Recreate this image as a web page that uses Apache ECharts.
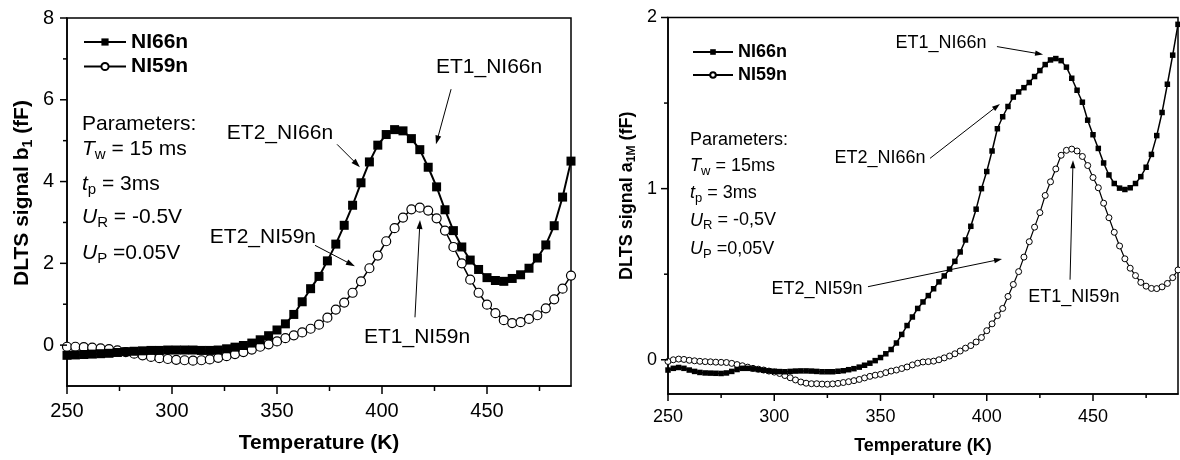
<!DOCTYPE html>
<html><head><meta charset="utf-8">
<script src="https://cdn.jsdelivr.net/npm/echarts@6/dist/echarts.min.js"></script>
<style>html,body{margin:0;padding:0;background:#fff}#c{width:1180px;height:460px}</style>
</head><body><div id="c"></div>
<script>
const FONT = '"Liberation Sans", Arial, Helvetica, sans-serif';

// ---------- data ----------
const seriesNames = ['NI66n', 'NI59n'];

const leftT = [250,254,258,262,266,270,274,278,282,286,290,294,298,302,306,310,314,318,322,326,
  330,334,338,342,346,350,354,358,362,366,370,374,378,382,386,390,394,398,402,406,
  410,414,418,422,426,430,434,438,442,446,450,454,458,462,466,470,474,478,482,486,490];
const left66 = [-0.25,-0.24,-0.23,-0.22,-0.21,-0.20,-0.18,-0.16,-0.15,-0.14,
  -0.13,-0.13,-0.12,-0.12,-0.12,-0.12,-0.13,-0.13,-0.12,-0.09,
  -0.05,-0.01,0.05,0.13,0.23,0.37,0.52,0.75,1.06,1.38,
  1.68,2.06,2.47,2.93,3.42,3.97,4.48,4.89,5.15,5.27,
  5.24,5.05,4.78,4.35,3.87,3.31,2.80,2.40,2.08,1.85,
  1.65,1.58,1.56,1.63,1.72,1.88,2.13,2.45,2.92,3.62,4.50];
const left59 = [-0.04,-0.04,-0.05,-0.06,-0.08,-0.10,-0.13,-0.17,-0.21,-0.25,
  -0.29,-0.32,-0.34,-0.36,-0.37,-0.38,-0.37,-0.35,-0.31,-0.27,
  -0.22,-0.17,-0.11,-0.04,0.02,0.09,0.17,0.24,0.31,0.40,
  0.50,0.67,0.87,1.04,1.28,1.56,1.88,2.19,2.54,2.86,
  3.12,3.32,3.36,3.29,3.10,2.80,2.40,2.00,1.60,1.28,
  0.99,0.78,0.61,0.54,0.56,0.64,0.73,0.90,1.12,1.38,1.70];

const rightT = [250,252.5,255,257.5,260,262.5,265,267.5,270,272.5,
  275,277.5,280,282.5,285,287.5,290,292.5,295,297.5,
  300,302.5,305,307.5,310,312.5,315,317.5,320,322.5,
  325,327.5,330,332.5,335,337.5,340,342.5,345,347.5,
  350,352.5,355,357.5,360,362.5,365,367.5,370,372.5,
  375,377.5,380,382.5,385,387.5,390,392.5,395,397.5,
  400,402.5,405,407.5,410,412.5,415,417.5,420,422.5,
  425,427.5,430,432.5,435,437.5,440,442.5,445,447.5,
  450,452.5,455,457.5,460,462.5,465,467.5,470,472.5,
  475,477.5,480,482.5,485,487.5,490];
const right66 = [-0.06,-0.05,-0.045,-0.05,-0.06,-0.068,-0.074,-0.077,-0.078,-0.079,
  -0.08,-0.077,-0.068,-0.057,-0.05,-0.05,-0.053,-0.057,-0.061,-0.065,
  -0.067,-0.069,-0.07,-0.068,-0.066,-0.065,-0.065,-0.066,-0.068,-0.07,
  -0.07,-0.07,-0.067,-0.064,-0.058,-0.052,-0.043,-0.032,-0.02,-0.005,
  0.013,0.035,0.06,0.098,0.148,0.2,0.25,0.3,0.338,0.375,
  0.415,0.455,0.49,0.53,0.575,0.63,0.70,0.78,0.88,1.0,
  1.10,1.22,1.35,1.42,1.48,1.535,1.565,1.59,1.62,1.655,
  1.69,1.725,1.752,1.76,1.748,1.71,1.645,1.575,1.505,1.40,
  1.315,1.235,1.15,1.08,1.03,1.003,0.995,1.005,1.03,1.07,
  1.125,1.2,1.31,1.445,1.61,1.78,1.96];
const right59 = [-0.01,0.0,0.004,0.002,-0.003,-0.006,-0.009,-0.011,-0.012,-0.014,
  -0.015,-0.016,-0.021,-0.028,-0.035,-0.043,-0.05,-0.055,-0.06,-0.066,
  -0.072,-0.08,-0.092,-0.105,-0.118,-0.13,-0.137,-0.14,-0.14,-0.142,
  -0.143,-0.141,-0.138,-0.133,-0.128,-0.122,-0.115,-0.106,-0.097,-0.09,
  -0.085,-0.075,-0.066,-0.06,-0.051,-0.042,-0.03,-0.02,-0.013,-0.011,
  -0.008,0.0,0.011,0.022,0.035,0.051,0.068,0.083,0.104,0.13,
  0.17,0.21,0.258,0.30,0.37,0.44,0.515,0.60,0.69,0.775,
  0.86,0.96,1.04,1.115,1.195,1.224,1.231,1.22,1.188,1.135,
  1.065,1.005,0.915,0.83,0.745,0.665,0.59,0.535,0.492,0.452,
  0.43,0.417,0.416,0.426,0.446,0.48,0.525];

const xLabels = [250, 300, 350, 400, 450];
const xMinor = [275, 325, 375, 425, 475];
const leftYLabels = [0, 2, 4, 6, 8];
const leftYMinor = [1, 3, 5, 7];
const rightYLabels = [0, 1, 2];
const rightYMinor = [0.5, 1.5];

// annotation: text, label (T, v), arrow from (T, v), arrow to (T, v)
const leftNotes = [
  ['ET1_NI66n', 451, 6.8, 432.9, 6.26, 425.7, 4.91],
  ['ET2_NI66n', 351.4, 5.18, 378.6, 4.91, 389.5, 4.35],
  ['ET2_NI59n', 343.3, 2.64, 368.1, 2.44, 387.1, 1.93],
  ['ET1_NI59n', 416.7, 0.2, 415.7, 0.68, 418.1, 3.06]
];
const rightNotes = [
  ['ET1_NI66n', 378.5, 1.853, 404.8, 1.83, 426.5, 1.784],
  ['ET2_NI66n', 349.8, 1.177, 373.3, 1.177, 406.2, 1.495],
  ['ET2_NI59n', 320.1, 0.416, 344.1, 0.427, 407.2, 0.589],
  ['ET1_NI59n', 441, 0.369, 439.2, 0.468, 440.6, 1.166]
];
const leftParams = ['{n|Parameters:}', '{i|T}{s|w}{n| = 15 ms}', '{i|t}{s|p}{n| = 3ms}', '{i|U}{s|R}{n| = -0.5V}', '{i|U}{s|P}{n| =0.05V}'];
const rightParams = ['{n|Parameters:}', '{i|T}{s|w}{n| = 15ms}', '{i|t}{s|p}{n| = 3ms}', '{i|U}{s|R}{n| = -0,5V}', '{i|U}{s|P}{n| =0,05V}'];

// ---------- helpers ----------
const zip = (xs, ys) => xs.map((x, i) => [x, ys[i]]);
const BLACK = '#000';

function xAxisOpt(gi, o) {
  return {type: 'value', gridIndex: gi, min: 250, max: 490, position: 'bottom',
    axisLine: {show: true, onZero: false, lineStyle: {color: BLACK, width: 1.5}},
    axisTick: {show: false},
    axisLabel: {show: true, customValues: xLabels, margin: o.margin, color: BLACK, fontSize: o.fs, fontFamily: FONT},
    splitLine: {show: false},
    name: 'Temperature (K)', nameLocation: 'middle', nameGap: o.nameGap,
    nameTextStyle: {color: BLACK, fontSize: o.nameFs, fontWeight: 'bold', fontFamily: FONT}};
}
function yAxisOpt(gi, o) {
  return {type: 'value', gridIndex: gi, min: o.min, max: o.max, position: 'left',
    axisLine: {show: true, onZero: false, lineStyle: {color: BLACK, width: 1.5}},
    axisTick: {show: false},
    axisLabel: {show: true, customValues: o.labels, margin: o.margin, color: BLACK, fontSize: o.fs, fontFamily: FONT},
    splitLine: {show: false},
    name: o.name, nameLocation: 'middle', nameGap: o.nameGap,
    nameTextStyle: {color: BLACK, fontFamily: FONT, padding: [0, 0, 0, o.shift], rich: {
      a: {fontSize: o.nameFs, fontWeight: 'bold', color: BLACK, fontFamily: FONT},
      s: {fontSize: o.subFs, fontWeight: 'bold', color: BLACK, fontFamily: FONT, padding: [o.subPad, 0, 0, 0]}}}};
}

const L = {tick: 8, minor: 5, margin: 15, fs: 20, nameGap: 47, nameFs: 21};
const R = {tick: 7, minor: 4, margin: 14, fs: 18, nameGap: 43, nameFs: 18};
const LY = {min: -1, max: 8, labels: leftYLabels, minorVals: leftYMinor, tick: 7, minor: 4, margin: 13, fs: 20,
  name: '{a|DLTS signal b}{s|1}{a| (fF)}', nameGap: 32, nameFs: 21, subFs: 14, subPad: 12, shift: 18};
const RY = {min: -0.2, max: 2, labels: rightYLabels, minorVals: rightYMinor, tick: 7, minor: 4, margin: 11, fs: 18,
  name: '{a|DLTS signal a}{s|1M}{a| (fF)}', nameGap: 30, nameFs: 18, subFs: 12, subPad: 10, shift: 20};

const chart = echarts.init(document.getElementById('c'), null, {renderer: 'canvas'});
chart.setOption({
  animation: false,
  backgroundColor: '#fff',
  grid: [
    {left: 67, top: 18, width: 504, height: 368, show: true, borderColor: BLACK, borderWidth: 1.5, backgroundColor: 'transparent'},
    {left: 668, top: 17.5, width: 510, height: 381, show: true, borderColor: BLACK, borderWidth: 1.5, backgroundColor: 'transparent'}
  ],
  xAxis: [xAxisOpt(0, L), xAxisOpt(1, R)],
  yAxis: [yAxisOpt(0, LY), yAxisOpt(1, RY)],
  legend: [
    {data: seriesNames, orient: 'vertical', left: 78, top: 26.5, itemWidth: 42, itemHeight: 9, itemGap: 3.5,
      selectedMode: false, textStyle: {color: BLACK, fontSize: 21, fontWeight: 'bold', fontFamily: FONT}},
    {data: seriesNames, orient: 'vertical', left: 687, top: 38, itemWidth: 40, itemHeight: 7, itemGap: 5,
      selectedMode: false, textStyle: {color: BLACK, fontSize: 18, fontWeight: 'bold', fontFamily: FONT}}
  ],
  series: [
    {name: seriesNames[0], type: 'line', xAxisIndex: 0, yAxisIndex: 0, data: zip(leftT, left66),
      symbol: 'rect', symbolSize: 9, itemStyle: {color: BLACK}, lineStyle: {color: BLACK, width: 2}, z: 3, silent: true},
    {name: seriesNames[1], type: 'line', xAxisIndex: 0, yAxisIndex: 0, data: zip(leftT, left59),
      symbol: 'circle', symbolSize: 9, itemStyle: {color: '#fff', borderColor: BLACK, borderWidth: 1.2},
      lineStyle: {color: BLACK, width: 1.5}, z: 2, silent: true},
    {name: seriesNames[0], type: 'line', xAxisIndex: 1, yAxisIndex: 1, data: zip(rightT, right66),
      symbol: 'rect', symbolSize: 5.5, itemStyle: {color: BLACK}, lineStyle: {color: BLACK, width: 1.5}, z: 3, silent: true},
    {name: seriesNames[1], type: 'line', xAxisIndex: 1, yAxisIndex: 1, data: zip(rightT, right59),
      symbol: 'circle', symbolSize: 6, itemStyle: {color: '#fff', borderColor: BLACK, borderWidth: 1},
      lineStyle: {color: BLACK, width: 1.2}, z: 2, silent: true}
  ]
});

const graphics = [];
const px = (ai, pt) => chart.convertToPixel({xAxisIndex: ai, yAxisIndex: ai}, pt);

// ---------- ticks (outside, major + minor) ----------
function addTicks(ai, ymin, xo, yo) {
  const tick = (x1, y1, x2, y2) => graphics.push({type: 'line', silent: true, z: 5,
    shape: {x1, y1, x2, y2}, style: {stroke: BLACK, lineWidth: 1.5}});
  xLabels.forEach(v => { const p = px(ai, [v, ymin]); tick(p[0], p[1], p[0], p[1] + xo.tick); });
  xMinor.forEach(v => { const p = px(ai, [v, ymin]); tick(p[0], p[1], p[0], p[1] + xo.minor); });
  yo.labels.forEach(v => { const p = px(ai, [250, v]); tick(p[0], p[1], p[0] - yo.tick, p[1]); });
  yo.minorVals.forEach(v => { const p = px(ai, [250, v]); tick(p[0], p[1], p[0] - yo.minor, p[1]); });
}
addTicks(0, LY.min, L, LY);
addTicks(1, RY.min, R, RY);

// ---------- annotations (positioned from data coordinates) ----------
function addNotes(notes, ai, fs, head) {
  notes.forEach(n => {
    const p = px(ai, [n[1], n[2]]);
    const a = px(ai, [n[3], n[4]]);
    const b = px(ai, [n[5], n[6]]);
    graphics.push({type: 'text', x: p[0], y: p[1], z: 10, silent: true,
      style: {text: n[0], fill: BLACK, font: fs + 'px ' + FONT, align: 'center', verticalAlign: 'middle'}});
    const dx = b[0] - a[0], dy = b[1] - a[1], len = Math.hypot(dx, dy);
    const ux = dx / len, uy = dy / len;
    const bx = b[0] - ux * head, by = b[1] - uy * head;
    graphics.push({type: 'line', z: 10, silent: true, shape: {x1: a[0], y1: a[1], x2: bx + ux, y2: by + uy},
      style: {stroke: BLACK, lineWidth: 1}});
    const w = head * 0.33;
    graphics.push({type: 'polygon', z: 10, silent: true,
      shape: {points: [[b[0], b[1]], [bx - uy * w, by + ux * w], [bx + uy * w, by - ux * w]]},
      style: {fill: BLACK}});
  });
}
addNotes(leftNotes, 0, 21, 9);
addNotes(rightNotes, 1, 18, 8);

function addParams(lines, x, ys, fs, sub, subPad) {
  lines.forEach((t, i) => {
    graphics.push({type: 'text', x: x, y: ys[i], z: 10, silent: true,
      style: {text: t, fill: BLACK, font: fs + 'px ' + FONT, align: 'left', verticalAlign: 'middle',
        rich: {
          n: {fontSize: fs, fontFamily: FONT, fill: BLACK},
          i: {fontSize: fs, fontFamily: FONT, fontStyle: 'italic', fill: BLACK},
          s: {fontSize: sub, fontFamily: FONT, fill: BLACK, padding: [subPad, 0, 0, 0]}
        }}});
  });
}
addParams(leftParams, 82, [124, 149, 184, 217, 253], 21, 15, 12);
addParams(rightParams, 690, [140.5, 166, 193, 220.5, 249], 18, 13, 10);

chart.setOption({graphic: graphics});
</script></body></html>
